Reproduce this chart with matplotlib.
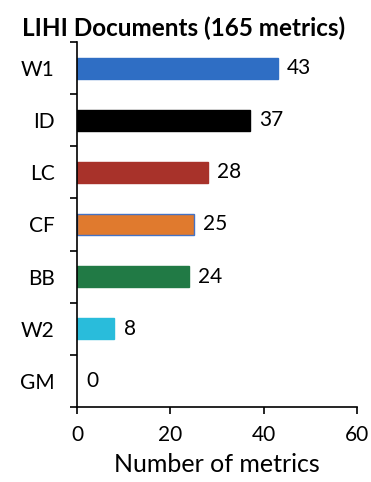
import matplotlib.pyplot as plt
import numpy as np

categories = ["W1", "ID", "LC", "CF", "BB", "W2", "GM"]
counts = [43, 37, 28, 25, 24, 8, 0]
bar_colors = ["#2F6EC4", "#000000", "#A8322A", "#E07A2E", "#217A45", "#29BCDB", "#FFFFFF"]
edge_colors = ["#2F6EC4", "#000000", "#A8322A", "#4472C4", "#217A45", "#29BCDB", "#FFFFFF"]
x_ticks = [0, 20, 40, 60]

plt.rcParams["font.family"] = ["Lato", "DejaVu Sans"]

fig = plt.figure(figsize=(3.71, 4.82), dpi=100)
ax = fig.add_axes([77 / 371, 75 / 482, 280 / 371, 365 / 482])

pos = np.arange(len(categories))
ax.barh(pos, counts, height=0.4, color=bar_colors, edgecolor=edge_colors, linewidth=1)
for p, v in zip(pos, counts):
    ax.text(v + 2, p, str(v), va="center", ha="left", fontsize=15)

ax.set_xlim(0, 60)
ax.set_ylim(len(categories) - 0.5, -0.5)
ax.set_xticks(x_ticks)
ax.tick_params(axis="x", labelsize=15, length=5, width=1.2, direction="out", pad=8)

# category boundaries as major ticks, labels at centers as minor ticks
ax.set_yticks(np.arange(-0.5, len(categories), 1.0))
ax.set_yticklabels([])
ax.set_yticks(pos, minor=True)
ax.set_yticklabels(categories, minor=True)
ax.tick_params(axis="y", which="major", length=5, width=1.2, direction="out")
ax.tick_params(axis="y", which="minor", length=0, labelsize=15, pad=16)

for s in ["top", "right"]:
    ax.spines[s].set_visible(False)
ax.spines["left"].set_linewidth(1.2)
ax.spines["bottom"].set_linewidth(1.2)

ax.set_xlabel("Number of metrics", fontsize=18, labelpad=6)
fig.text(22 / 371, 1 - 28 / 482, "LIHI Documents (165 metrics)",
         fontsize=17.5, fontweight="bold", ha="left", va="center")

fig.savefig("out.png", dpi=100)
